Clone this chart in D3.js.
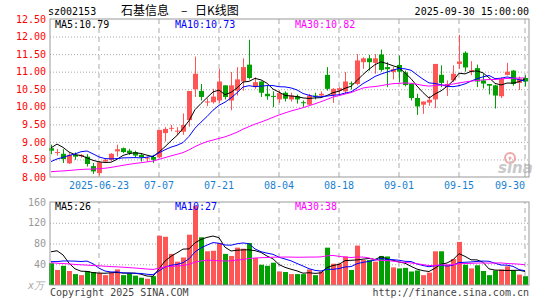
<!DOCTYPE html>
<html>
<head>
<meta charset="utf-8">
<script src="https://cdn.jsdelivr.net/npm/d3@7"></script>
<style>
body { margin: 0; background: #fff; }
text { font-family: "DejaVu Sans Mono", monospace; font-size: 10px; }
</style>
</head>
<body>
<script>
var code = "sz002153";
var titleName = "石基信息";
var titleDash = "–";
var titleKind = "日K线图";
var stamp = "2025-09-30 15:00:00";

var dates = [
  "06-11","06-12","06-13","06-16","06-17","06-18","06-19","06-20","06-23","06-24",
  "06-25","06-26","06-27","06-30","07-01","07-02","07-03","07-04","07-07","07-08",
  "07-09","07-10","07-11","07-14","07-15","07-16","07-17","07-18","07-21","07-22",
  "07-23","07-24","07-25","07-28","07-29","07-30","07-31","08-01","08-04","08-05",
  "08-06","08-07","08-08","08-11","08-12","08-13","08-14","08-15","08-18","08-19",
  "08-20","08-21","08-22","08-25","08-26","08-27","08-28","08-29","09-01","09-02",
  "09-03","09-04","09-05","09-08","09-09","09-10","09-11","09-12","09-15","09-16",
  "09-17","09-18","09-19","09-22","09-23","09-24","09-25","09-26","09-29","09-30"];

var priceOpen = [
  8.82,8.70,8.66,8.39,8.63,8.59,8.58,8.31,8.11,8.44,
  8.49,8.73,8.82,8.75,8.71,8.63,8.53,8.57,8.56,9.25,
  9.38,9.30,9.29,9.62,10.50,10.45,10.13,10.13,10.18,10.61,
  10.18,10.46,10.72,11.20,10.56,10.72,10.37,10.31,10.21,10.40,
  10.21,10.30,10.13,10.06,10.32,10.32,10.91,10.34,10.46,10.44,
  10.67,10.65,11.27,11.38,11.25,11.49,11.13,10.99,11.19,10.98,
  10.65,10.25,10.06,10.12,10.21,10.91,10.56,10.75,11.22,11.54,
  11.00,11.10,10.75,10.65,10.61,10.30,10.91,11.03,10.68,10.82];
var priceHigh = [
  8.92,8.80,8.79,8.68,8.70,8.65,8.65,8.40,8.46,8.52,
  8.68,8.92,8.84,8.80,8.75,8.68,8.58,8.63,9.34,9.42,
  9.48,9.42,9.81,10.45,11.43,10.65,10.24,10.51,11.08,10.61,
  10.99,11.13,11.38,11.91,10.84,10.72,10.61,10.44,10.47,10.44,
  10.40,10.35,10.18,10.37,10.40,10.44,11.13,10.53,10.56,10.99,
  10.72,11.50,11.41,11.48,11.50,11.63,11.27,11.13,11.46,11.03,
  10.68,10.37,10.15,10.30,11.22,11.18,10.75,11.18,12.05,11.58,
  11.30,11.20,10.93,10.65,10.63,10.84,11.25,11.05,10.86,10.90];
var priceLow = [
  8.65,8.61,8.40,8.37,8.49,8.55,8.30,8.09,8.04,8.42,
  8.45,8.58,8.68,8.63,8.56,8.44,8.44,8.40,8.54,9.01,
  9.30,9.18,9.20,9.43,10.28,10.18,10.02,10.09,10.11,10.21,
  9.90,10.32,10.46,10.78,10.51,10.28,10.20,9.99,10.11,10.15,
  10.15,10.09,10.00,10.04,10.21,10.28,10.46,10.11,10.32,10.37,
  10.49,10.61,11.08,11.03,10.94,11.00,10.56,10.78,10.70,10.58,
  10.18,9.77,9.80,10.03,9.96,10.56,10.31,10.70,11.08,11.00,
  10.90,10.56,10.52,10.35,9.95,10.25,10.89,10.60,10.48,10.58];
var priceClose = [
  8.75,8.71,8.51,8.63,8.58,8.63,8.37,8.16,8.42,8.49,
  8.66,8.79,8.71,8.68,8.61,8.56,8.55,8.49,9.34,9.37,
  9.40,9.32,9.48,10.45,10.94,10.28,10.15,10.29,10.72,10.28,
  10.61,10.78,11.13,10.82,10.70,10.40,10.30,10.30,10.39,10.23,
  10.32,10.21,10.11,10.32,10.30,10.37,10.51,10.51,10.53,10.72,
  10.65,11.32,11.38,11.27,11.38,11.05,11.07,11.07,11.00,10.62,
  10.25,10.01,10.15,10.20,11.22,10.68,10.65,10.94,11.29,11.12,
  11.04,10.72,10.66,10.60,10.32,10.80,11.00,10.65,10.80,10.72];
// volume, 万
var volume = [
  42,29,37,27,21,19,27,25,23,19,
  24,30,19,23,18,14,12,17,95,93,
  60,45,53,97,152,92,65,66,81,60,
  56,72,70,81,52,39,37,43,26,25,
  21,21,21,30,19,26,72,41,41,55,
  29,76,48,48,45,56,55,34,32,33,
  26,28,19,24,65,65,39,50,83,39,
  32,38,27,19,28,30,36,28,20,17];

// the 29 sessions before the window, only used to start the moving averages
var prevClose = [
  8.30,8.25,8.20,8.15,8.22,8.12,8.10,8.08,8.08,7.95,
  7.90,7.85,7.80,7.88,7.92,7.85,7.80,7.86,7.90,7.89,
  7.98,8.05,8.10,8.13,8.00,8.16,8.98,9.30,8.95];
var prevVolume = [
  60,55,48,52,40,45,50,38,42,47,
  44,40,46,43,41,42,41,24,20,22,
  28,25,27,24,26,19,77,107,75];

var priceTicks = [8.0,8.5,9.0,9.5,10.0,10.5,11.0,11.5,12.0,12.5];
var volumeTicks = [40,80,120,160];
var tickDates = ["06-23","07-07","07-21","08-04","08-18","09-01","09-15","09-30"];
var tickLabels = ["2025-06-23","07-07","07-21","08-04","08-18","09-01","09-15","09-30"];

var mLeft = 50, mRight = 529, mTop = 19, mBottom = 177, vTop = 202, vBottom = 285;
var up = "#ff5555", down = "#00a000", gridColor = "#aaa";

var svg = d3.select("body").append("svg")
    .attr("width", 545)
    .attr("height", 300);

var x = d3.scaleBand().domain(dates).range([48, 528]);
var y = d3.scaleLinear().domain([8, 12.5]).range([mBottom, mTop]);
var yv = d3.scaleLinear().domain([0, 160]).range([vBottom, vTop]);
function cx(d) { return x(d) + x.bandwidth() / 2; }
function isUp(i) { return priceClose[i] >= priceOpen[i]; }

function movingAvg(prev, vals, n) {
    var all = prev.concat(vals);
    return vals.map(function(v, i) {
        var k = i + prev.length;
        return d3.mean(all.slice(k - n + 1, k + 1));
    });
}
var ma5 = movingAvg(prevClose, priceClose, 5),
    ma10 = movingAvg(prevClose, priceClose, 10),
    ma30 = movingAvg(prevClose, priceClose, 30);
var vma5 = movingAvg(prevVolume, volume, 5),
    vma10 = movingAvg(prevVolume, volume, 10),
    vma30 = movingAvg(prevVolume, volume, 30);

// header
svg.append("text").attr("x", 48).attr("y", 15).text(code);
[[121, titleName], [181, titleDash], [195, titleKind]].forEach(function(t) {
    svg.append("text").attr("x", t[0]).attr("y", 15)
        .style("font-family", "'Noto Sans CJK SC', sans-serif")
        .style("font-size", "12px")
        .text(t[1]);
});
svg.append("text").attr("x", 529).attr("y", 15)
    .attr("text-anchor", "end").text(stamp);

// horizontal dotted grid
svg.append("g")
    .attr("transform", "translate(" + mLeft + ",0)")
    .call(d3.axisLeft(y).tickValues(priceTicks.slice(1, -1)).tickSize(-(mRight - mLeft)).tickFormat(""))
    .call(function(g) {
        g.select(".domain").remove();
        g.selectAll("line").attr("stroke", gridColor).attr("stroke-dasharray", "1,2");
    });
svg.append("g")
    .attr("transform", "translate(" + mLeft + ",0)")
    .call(d3.axisLeft(yv).tickValues(volumeTicks.slice(0, -1)).tickSize(-(mRight - mLeft)).tickFormat(""))
    .call(function(g) {
        g.select(".domain").remove();
        g.selectAll("line").attr("stroke", gridColor).attr("stroke-dasharray", "1,2");
    });

// vertical dashed lines
svg.append("g")
    .attr("transform", "translate(0," + mBottom + ")")
    .call(d3.axisBottom(x).tickValues(tickDates).tickSize(-(mBottom - mTop)).tickFormat(""))
    .call(function(g) {
        g.select(".domain").remove();
        g.selectAll("line").attr("stroke", gridColor).attr("stroke-dasharray", "5,4");
    });
svg.append("g")
    .attr("transform", "translate(0," + vBottom + ")")
    .call(d3.axisBottom(x).tickValues(tickDates).tickSize(-(vBottom - vTop)).tickFormat(""))
    .call(function(g) {
        g.select(".domain").remove();
        g.selectAll("line").attr("stroke", gridColor).attr("stroke-dasharray", "5,4");
    });

// date labels
svg.append("g")
    .attr("transform", "translate(0," + mBottom + ")")
    .call(d3.axisBottom(x).tickValues(tickDates).tickSize(0).tickPadding(5)
        .tickFormat(function(d, i) { return tickLabels[i]; }))
    .call(function(g) {
        g.select(".domain").remove();
        g.selectAll("text").attr("fill", "#1a7fd0").style("font-size", "10px").style("font-family", null);
        g.select(".tick:last-of-type text").attr("text-anchor", "end").attr("x", 0);
    });

// price and volume labels
svg.append("g")
    .attr("transform", "translate(" + mLeft + ",0)")
    .call(d3.axisLeft(y).tickValues(priceTicks).tickSize(0).tickPadding(4).tickFormat(d3.format(".2f")))
    .call(function(g) {
        g.select(".domain").remove();
        g.selectAll("text").attr("fill", "#ff0000").style("font-size", "10px").style("font-family", null);
    });
svg.append("g")
    .attr("transform", "translate(" + mLeft + ",0)")
    .call(d3.axisLeft(yv).tickValues(volumeTicks).tickSize(0).tickPadding(4))
    .call(function(g) {
        g.select(".domain").remove();
        g.selectAll("text").attr("fill", "#999").style("font-size", "10px").style("font-family", null);
    });
svg.append("text").attr("x", 28).attr("y", 289).attr("fill", "#aaa")
    .style("font-style", "italic").text("x万");

// sina watermark
var logo = svg.append("g").attr("opacity", 0.45);
logo.append("circle").attr("cx", 510).attr("cy", 158).attr("r", 5)
    .attr("fill", "none").attr("stroke", "#e04040").attr("stroke-width", 2);
logo.append("circle").attr("cx", 510).attr("cy", 158).attr("r", 1.5).attr("fill", "#e04040");
logo.append("text").attr("x", 498).attr("y", 173).attr("fill", "#888")
    .style("font-family", "'DejaVu Sans', sans-serif")
    .style("font-size", "15px").style("font-weight", "bold").style("font-style", "italic")
    .text("sina");

// candles
var candles = svg.append("g").selectAll("g")
    .data(dates)
    .enter().append("g");
candles.append("line")
    .attr("x1", function(d) { return Math.round(cx(d)) + 0.5; })
    .attr("x2", function(d) { return Math.round(cx(d)) + 0.5; })
    .attr("y1", function(d, i) { return y(priceHigh[i]); })
    .attr("y2", function(d, i) { return y(priceLow[i]); })
    .attr("stroke", function(d, i) { return isUp(i) ? up : down; });
candles.append("rect")
    .attr("x", function(d) { return Math.round(cx(d)) - 2; })
    .attr("width", 5)
    .attr("y", function(d, i) { return y(Math.max(priceOpen[i], priceClose[i])); })
    .attr("height", function(d, i) { return Math.max(1, Math.abs(y(priceOpen[i]) - y(priceClose[i]))); })
    .attr("fill", function(d, i) { return isUp(i) ? up : down; });

// volume bars
svg.append("g").selectAll("rect")
    .data(dates)
    .enter().append("rect")
    .attr("x", function(d) { return Math.round(cx(d)) - 2; })
    .attr("width", 5)
    .attr("y", function(d, i) { return yv(volume[i]); })
    .attr("height", function(d, i) { return vBottom - yv(volume[i]); })
    .attr("fill", function(d, i) { return isUp(i) ? up : down; });

// moving averages
function drawLine(vals, scale, color) {
    var line = d3.line()
        .x(function(d, i) { return cx(dates[i]); })
        .y(function(d) { return scale(d); });
    svg.append("path")
        .datum(vals)
        .attr("fill", "none")
        .attr("stroke", color)
        .attr("stroke-width", 1)
        .attr("d", line);
}
drawLine(ma5, y, "#000");
drawLine(ma10, y, "#0000ff");
drawLine(ma30, y, "#ff00ff");
drawLine(vma5, yv, "#000");
drawLine(vma10, yv, "#0000ff");
drawLine(vma30, yv, "#ff00ff");

// frames
svg.append("rect").attr("x", mLeft).attr("y", mTop)
    .attr("width", mRight - mLeft).attr("height", mBottom - mTop)
    .attr("fill", "none").attr("stroke", "#999");
svg.append("rect").attr("x", mLeft).attr("y", vTop)
    .attr("width", mRight - mLeft).attr("height", vBottom - vTop)
    .attr("fill", "none").attr("stroke", "#999");

// legends
var last = dates.length - 1;
var legend = [
    {x: 55, text: "MA5:" + ma5[last].toFixed(2), vtext: "MA5:" + Math.floor(vma5[last]), color: "#000"},
    {x: 175, text: "MA10:" + ma10[last].toFixed(2), vtext: "MA10:" + Math.floor(vma10[last]), color: "#0000ff"},
    {x: 295, text: "MA30:" + ma30[last].toFixed(2), vtext: "MA30:" + Math.floor(vma30[last]), color: "#ff00ff"}
];
legend.forEach(function(l) {
    svg.append("text").attr("x", l.x).attr("y", 28).attr("fill", l.color).text(l.text);
    svg.append("text").attr("x", l.x).attr("y", 210).attr("fill", l.color).text(l.vtext);
});

// footer
svg.append("text").attr("x", 50).attr("y", 296).attr("fill", "#444").text("Copyright 2025 SINA.COM");
svg.append("text").attr("x", 529).attr("y", 296).attr("fill", "#444")
    .attr("text-anchor", "end").text("http://finance.sina.com.cn");
</script>
</body>
</html>
